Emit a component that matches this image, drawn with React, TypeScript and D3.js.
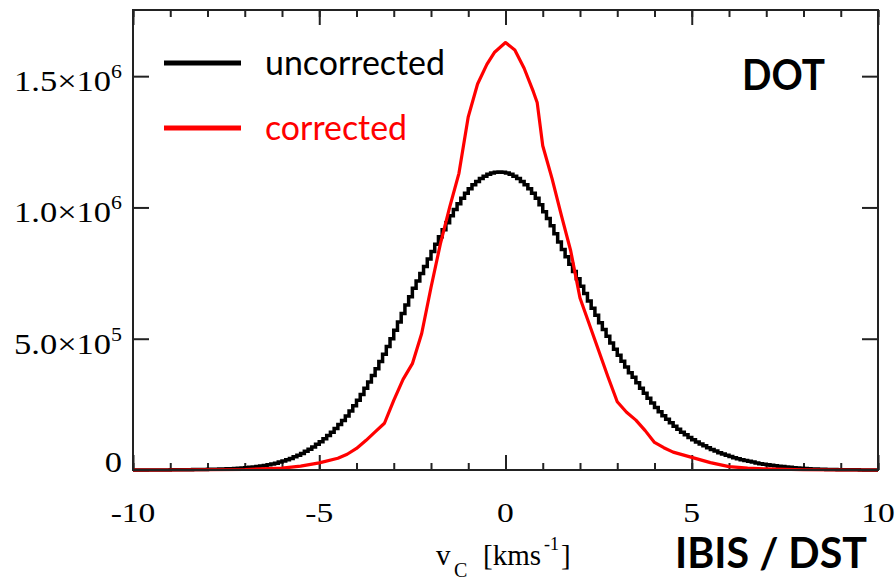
import React, { useEffect, useRef } from 'react'
import * as d3 from 'd3'

// histogram of v_C, uncorrected: bins of 0.1 km/s starting at -10, counts in units of 10^3
const binStart = -10
const binWidth = 0.1
const uncorrected = [
  0, 0, 0, 0, 0, 0, 0, 0, 0, 0,
  1, 1, 1, 1, 1, 1, 2, 2, 2, 2,
  3, 3, 3, 4, 4, 5, 5, 6, 7, 8,
  9, 10, 11, 13, 15, 17, 20, 23, 26, 30,
  34, 39, 44, 50, 56, 63, 71, 79, 88, 98,
  108, 119, 131, 144, 158, 173, 189, 206, 225, 245,
  266, 288, 311, 335, 360, 386, 413, 441, 470, 500,
  532, 564, 596, 628, 660, 692, 720, 748, 775, 804,
  832, 860, 888, 915, 942, 968, 992, 1014, 1035, 1054,
  1071, 1086, 1099, 1110, 1119, 1126, 1131, 1134, 1135,
  1134, 1131, 1126, 1119, 1110, 1099, 1086, 1071, 1054, 1035,
  1010, 984, 958, 930, 900, 868, 840, 812, 784, 756,
  728, 700, 672, 644, 616, 589, 561, 535, 509, 484,
  460, 437, 414, 392, 370, 353, 332, 311, 292, 273,
  255, 238, 222, 207, 193, 180, 167, 155, 144, 134,
  124, 115, 107, 99, 92, 85, 78, 72, 66, 61,
  56, 51, 47, 43, 39, 36, 33, 30, 27, 24,
  22, 20, 18, 16, 14, 13, 11, 10, 9, 8,
  7, 6, 5, 4, 4, 3, 3, 2, 2, 2,
  1, 1, 1, 1, 1, 1, 0, 0, 0, 0,
  0,
]

// corrected distribution (line), counts in units of 10^3
const correctedV = [
  -10, -9, -8, -7, -6, -5.5, -5, -4.5, -4.25, -4, -3.75, -3.5, -3.25, -3, -2.75, -2.5, -2.25, -2,
  -1.75, -1.5, -1.25, -1, -0.75, -0.5, -0.3, 0, 0.25, 0.5, 0.75, 0.85, 1, 1.25, 1.5, 1.75, 2,
  2.25, 2.5, 2.75, 3, 3.25, 3.5, 3.75, 4, 4.25, 4.5, 5, 5.5, 6, 6.5, 7, 8, 9, 10,
]
const corrected = [
  0, 0, 1, 2, 7, 15, 27, 45, 60, 82, 112, 145, 178, 265, 345, 405, 520, 695,
  860, 1000, 1130, 1345, 1470, 1545, 1590, 1628, 1600, 1530, 1440, 1400, 1235, 1110, 970, 835, 655,
  555, 455, 355, 260, 220, 190, 150, 105, 85, 68, 48, 28, 13, 7, 4, 1, 0, 0,
]

const xTicksMajor = [-10, -5, 0, 5, 10]
const xTicksMinor = d3.range(-10, 11, 1)
const yTicks = [0, 500, 1000, 1500]
const yTickLabels = [
  { base: '0', exp: '' },
  { base: '5.0\u00d710', exp: '5' },
  { base: '1.0\u00d710', exp: '6' },
  { base: '1.5\u00d710', exp: '6' },
]

const legend = [
  { name: 'uncorrected', color: '#000000', len: 180 },
  { name: 'corrected', color: '#ff0000', len: 142 },
]

const serif = '"Liberation Serif", "Times New Roman", serif'
const sans = 'Lato, "Open Sans", sans-serif'

function App() {
  const canvas = useRef<SVGSVGElement>(null)

  useEffect(() => {
    const svg = d3.select(canvas.current)
    svg.selectAll('*').remove()

    const margin = { top: 10, right: 17, bottom: 110, left: 133 }
    const width = 895 - margin.left - margin.right
    const height = 580 - margin.top - margin.bottom

    const g = svg.append('g').attr('transform', `translate(${margin.left},${margin.top})`)

    const xScale = d3.scaleLinear().domain([-10, 10]).range([0, width])
    const yScale = d3.scaleLinear().domain([0, 1752]).range([height, 0])

    // ticks, all pointing inward
    const addAxis = (axis: any, tr: string) => {
      const a = g.append('g').attr('transform', tr).call(axis)
      a.select('.domain').remove()
      a.selectAll('line').attr('stroke', '#222').attr('stroke-width', 2)
    }
    addAxis(d3.axisBottom(xScale).tickValues(xTicksMinor).tickSize(-7).tickFormat(() => ''), `translate(0,${height})`)
    addAxis(d3.axisBottom(xScale).tickValues(xTicksMajor).tickSize(-15).tickFormat(() => ''), `translate(0,${height})`)
    addAxis(d3.axisTop(xScale).tickValues(xTicksMinor).tickSize(-7).tickFormat(() => ''), 'translate(0,0)')
    addAxis(d3.axisTop(xScale).tickValues(xTicksMajor).tickSize(-15).tickFormat(() => ''), 'translate(0,0)')
    addAxis(d3.axisLeft(yScale).tickValues(yTicks).tickSize(-16).tickFormat(() => ''), 'translate(0,0)')
    addAxis(d3.axisRight(yScale).tickValues(yTicks).tickSize(-16).tickFormat(() => ''), `translate(${width},0)`)

    // x tick labels
    g.selectAll('.xlab')
      .data(xTicksMajor)
      .enter()
      .append('text')
      .attr('transform', (d) => `translate(${xScale(d)},${height + 52}) scale(1.2,1)`)
      .attr('text-anchor', 'middle')
      .attr('font-family', serif)
      .attr('font-size', 28)
      .text((d) => d)

    // y tick labels with exponents
    const ylab = g
      .selectAll('.ylab')
      .data(yTicks)
      .enter()
      .append('text')
      .attr('transform', (d) => `translate(-11,${yScale(d) + (d === 0 ? 2 : 15)}) scale(1.15,1)`)
      .attr('text-anchor', 'end')
      .attr('font-family', serif)
      .attr('font-size', 30)
    ylab.append('tspan').text((d, i) => yTickLabels[i].base)
    ylab
      .append('tspan')
      .attr('dy', -13)
      .attr('font-size', 19)
      .text((d, i) => yTickLabels[i].exp)

    // curves
    const clip = g.append('clipPath').attr('id', 'plot-clip')
    clip.append('rect').attr('width', width).attr('height', height + 2)

    const stepData = uncorrected.map((d, i) => [binStart + i * binWidth, d] as [number, number])
    stepData.push([10, uncorrected[uncorrected.length - 1]])
    const stepLine = d3
      .line<[number, number]>()
      .x((d) => xScale(d[0]))
      .y((d) => yScale(d[1]))
      .curve(d3.curveStepAfter)

    const redLine = d3
      .line<number>()
      .x((d, i) => xScale(correctedV[i]))
      .y((d) => yScale(d))

    g.append('path')
      .attr('clip-path', 'url(#plot-clip)')
      .attr('d', stepLine(stepData))
      .attr('fill', 'none')
      .attr('stroke', '#000')
      .attr('stroke-width', 3.5)

    g.append('path')
      .attr('clip-path', 'url(#plot-clip)')
      .attr('d', redLine(corrected))
      .attr('fill', 'none')
      .attr('stroke', '#ff0000')
      .attr('stroke-width', 3.2)
      .attr('stroke-linejoin', 'round')

    // frame
    g.append('rect')
      .attr('width', width)
      .attr('height', height)
      .attr('fill', 'none')
      .attr('stroke', '#222')
      .attr('stroke-width', 2)

    // legend
    const leg = svg
      .selectAll('.leg')
      .data(legend)
      .enter()
      .append('g')
      .attr('transform', (d, i) => `translate(164,${63 + i * 65})`)
    leg
      .append('line')
      .attr('x1', 0)
      .attr('x2', 77)
      .attr('stroke', (d) => d.color)
      .attr('stroke-width', 5)
    leg
      .append('text')
      .attr('x', 101)
      .attr('y', 12)
      .attr('font-family', sans)
      .attr('font-size', 34)
      .attr('fill', (d) => d.color)
      .attr('textLength', (d) => d.len)
      .attr('lengthAdjust', 'spacingAndGlyphs')
      .text((d) => d.name)

    // labels
    svg
      .append('text')
      .attr('x', 742)
      .attr('y', 90)
      .attr('font-family', sans)
      .attr('font-weight', 'bold')
      .attr('font-size', 42)
      .attr('textLength', 83)
      .attr('lengthAdjust', 'spacingAndGlyphs')
      .text('DOT')

    svg
      .append('text')
      .attr('x', 675)
      .attr('y', 568)
      .attr('font-family', sans)
      .attr('font-weight', 'bold')
      .attr('font-size', 42)
      .attr('textLength', 192)
      .attr('lengthAdjust', 'spacingAndGlyphs')
      .text('IBIS / DST')

    const title = svg.append('text').attr('font-family', serif).attr('font-size', 29)
    title.append('tspan').attr('x', 436).attr('y', 565).text('v')
    title.append('tspan').attr('x', 454).attr('y', 577).attr('font-size', 20).text('C')
    title.append('tspan').attr('x', 483).attr('y', 565).text('[kms')
    title.append('tspan').attr('x', 544).attr('y', 550).attr('font-size', 18).text('-1')
    title.append('tspan').attr('x', 561).attr('y', 565).text(']')
  }, [])

  return (
    <svg
      ref={canvas}
      width={895}
      height={580}
      style={{ position: 'absolute', left: 0, top: 0, background: '#fff' }}
    ></svg>
  )
}

export default App
